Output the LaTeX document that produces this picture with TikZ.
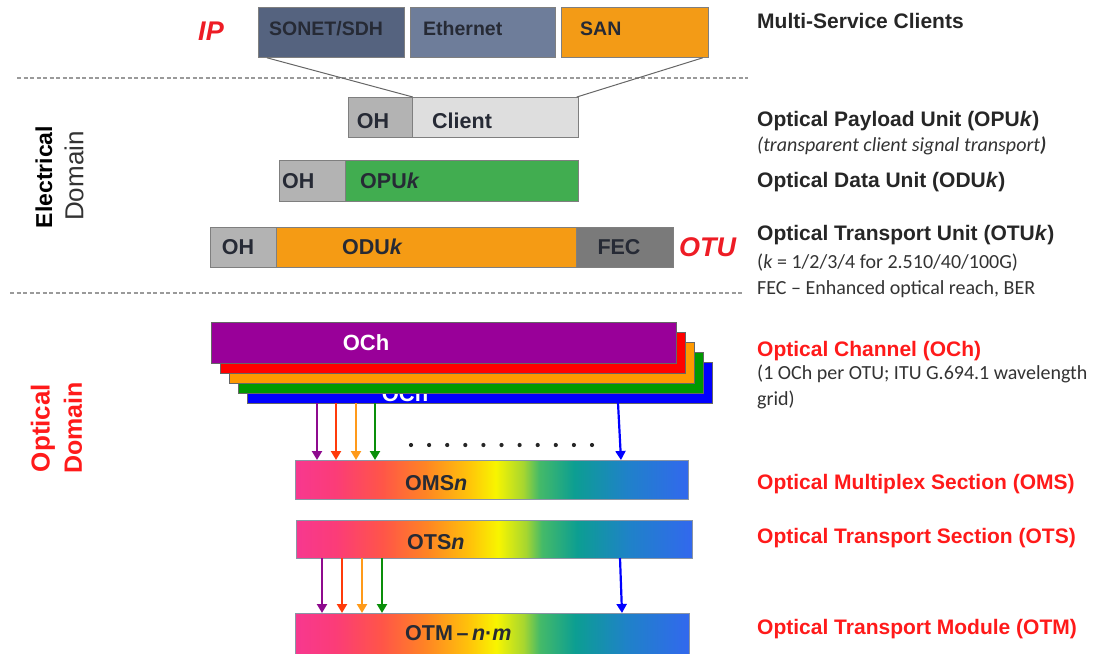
\documentclass[tikz,border=0pt]{standalone}
\usepackage{fontspec}
\setmainfont{Liberation Sans}
\newfontfamily\calibrifont{Carlito}
\usetikzlibrary{arrows.meta,calc}

% palette
\definecolor{ink}{HTML}{262A35}
\definecolor{labelink}{HTML}{262626}
\definecolor{noteink}{HTML}{333333}
\definecolor{labelred}{HTML}{FF1A1A}
\definecolor{tagred}{HTML}{EE1C25}
\definecolor{boxline}{HTML}{7F7F7F}
\definecolor{dashgray}{HTML}{9A9A9A}
\definecolor{sonetc}{HTML}{55637F}
\definecolor{etherc}{HTML}{6E7D9A}
\definecolor{sanc}{HTML}{F39B16}
\definecolor{ohc}{HTML}{B3B3B3}
\definecolor{clientc}{HTML}{DEDEDE}
\definecolor{opuc}{HTML}{41AD50}
\definecolor{oduc}{HTML}{F59B14}
\definecolor{fecc}{HTML}{7A7A7A}
\definecolor{ochline}{HTML}{666666}
\definecolor{ochpurple}{HTML}{990099}
\definecolor{ochred}{HTML}{FF0000}
\definecolor{ochorange}{HTML}{FF9900}
\definecolor{ochgreen}{HTML}{009900}
\definecolor{ochblue}{HTML}{0000FF}
\definecolor{arpurple}{HTML}{8E0A8E}
\definecolor{arred}{HTML}{FF3B0A}
\definecolor{arorange}{HTML}{FF9A1A}
\definecolor{argreen}{HTML}{0A8F0A}
\definecolor{arblue}{HTML}{0000FF}
\definecolor{barline}{HTML}{8A95A5}
\definecolor{sp0}{HTML}{F7388F}
\definecolor{sp1}{HTML}{FB3C78}
\definecolor{sp2}{HTML}{FF5548}
\definecolor{sp3}{HTML}{FF8424}
\definecolor{sp4}{HTML}{FFC30A}
\definecolor{sp5}{HTML}{F8F500}
\definecolor{sp6}{HTML}{A6D630}
\definecolor{sp7}{HTML}{45BA68}
\definecolor{sp8}{HTML}{0C9E92}
\definecolor{sp9}{HTML}{1F82C8}
\definecolor{sp10}{HTML}{3268EE}

% wavelength spectrum across the multiplexed bars (path spans 25bp..75bp)
\pgfdeclarehorizontalshading{spectrum}{100bp}{%
  color(0bp)=(sp0); color(25bp)=(sp0); color(30bp)=(sp1); color(36bp)=(sp2);
  color(41.5bp)=(sp3); color(47bp)=(sp4); color(50.5bp)=(sp5); color(54bp)=(sp6);
  color(56bp)=(sp7); color(60.5bp)=(sp8); color(67bp)=(sp9); color(75bp)=(sp10);
  color(100bp)=(sp10)}

\tikzset{
  box/.style={draw=boxline, line width=0.8pt, inner sep=0pt, anchor=north west},
  ochlayer/.style={draw=ochline, line width=0.6pt, inner sep=0pt, anchor=north west,
    minimum width=465pt, minimum height=41pt},
  bar/.style={draw=barline, line width=0.7pt, inner sep=0pt, anchor=north west,
    shade, shading=spectrum},
  txt/.style={inner sep=0pt, anchor=base west},
  boxtxt/.style={txt, text=ink, font=\fontsize{21.5}{26}\selectfont\bfseries},
  clienttxt/.style={txt, text=ink, font=\fontsize{19.5}{24}\selectfont\bfseries},
  ochtxt/.style={inner sep=0pt, text=white, font=\fontsize{22}{26}\selectfont\bfseries},
  lbl/.style={txt, text=labelink, font=\fontsize{21}{25}\selectfont\bfseries},
  redlbl/.style={lbl, text=labelred},
  note/.style={txt, text=noteink, font=\fontsize{20}{24}\selectfont\calibrifont},
  tag/.style={inner sep=0pt, text=tagred, font=\fontsize{27}{32}\selectfont\bfseries\itshape},
  domaintxt/.style={inner sep=0pt, rotate=90},
  dashline/.style={draw=dashgray, line width=1.2pt, dash pattern=on 4pt off 2.5pt},
  fanline/.style={draw=black!60, line width=1pt},
  drop/.style={line width=2.2pt, -{Triangle[width=10pt,length=9pt]}},
}

\begin{document}
\begin{tikzpicture}[x=1pt,y=-1pt]
\useasboundingbox (0,0) rectangle (1115,653);
\clip (0,0) rectangle (1115,653);

% ---------- client signals ----------
\node[tag, anchor=center] (ip) at (211,31) {IP};
\node[box, fill=sonetc, minimum width=146pt, minimum height=50pt] (sonet) at (258,7) {};
\node[box, fill=etherc, minimum width=145pt, minimum height=50pt] (ether) at (410,7) {};
\node[box, fill=sanc,   minimum width=147pt, minimum height=50pt] (san)   at (561,7) {};
\node[clienttxt] (sonettxt) at (269,35) {SONET/SDH};
\node[clienttxt] (ethertxt) at (423,35) {Ethernet};
\node[clienttxt] (santxt)   at (580,35) {SAN};
\node[lbl] (msc) at (757,28.5) {Multi-Service Clients};

% domain separators
\coordinate (sepAl) at (17,78);  \coordinate (sepAr) at (748,78);
\coordinate (sepBl) at (10,293); \coordinate (sepBr) at (742,293);
\draw[dashline] (sepAl) -- (sepAr);
\draw[dashline] (sepBl) -- (sepBr);

% ---------- OPU ----------
\node[box, fill=ohc,     minimum width=64pt,  minimum height=40pt] (oh1)    at (348,97) {};
\node[box, fill=clientc, minimum width=166pt, minimum height=40pt] (client) at (412,97) {};
\node[boxtxt, anchor=base] (oh1txt) at (373,128.5) {OH};
\node[boxtxt] (clienttxt) at (432,128.5) {Client};
\draw[fanline] ($(sonet.south west)+(9,0)$) -- (oh1.north east);
\draw[fanline] ($(san.south east)+(-6,0)$) -- ($(client.north east)+(-2,0)$);

\node[lbl] (opulbl) at (757,126.5) {Optical Payload Unit (OPU\textit{k})};
\node[note, font=\fontsize{20}{24}\selectfont\calibrifont\itshape] (opunote) at (757,151)
  {(transparent client signal transport\textbf{)}};

% ---------- ODU ----------
\node[box, fill=ohc,  minimum width=66pt,  minimum height=41pt] (oh2) at (279,160) {};
\node[box, fill=opuc, minimum width=233pt, minimum height=41pt] (opu) at (345,160) {};
\node[boxtxt] (oh2txt) at (282,188.5) {OH};
\node[boxtxt] (oputxt) at (360,188.5) {OPU\textit{k}};
\node[lbl] (odulbl) at (757,187.5) {Optical Data Unit (ODU\textit{k})};

% ---------- OTU ----------
\node[box, fill=ohc,  minimum width=66pt,  minimum height=40pt] (oh3) at (210,227) {};
\node[box, fill=oduc, minimum width=300pt, minimum height=40pt] (odu) at (276,227) {};
\node[box, fill=fecc, minimum width=97pt,  minimum height=40pt] (fec) at (576,227) {};
\node[boxtxt, anchor=base] (oh3txt) at (238,254.5) {OH};
\node[boxtxt] (odutxt) at (342,254.5) {ODU\textit{k}};
\node[boxtxt, anchor=base] (fectxt) at (619,254.5) {FEC};
\node[tag, anchor=base west] (otu) at (679,256.5) {OTU};
\node[lbl] (otulbl) at (757,240.5) {Optical Transport Unit (OTU\textit{k})};
\node[note] (otunote) at (757,268.5) {(\textit{k} = 1/2/3/4 for 2.510/40/100G)};
\node[note] (fecnote) at (757,294.5) {FEC – Enhanced optical reach, BER};

% ---------- domain labels ----------
\node[domaintxt, text=black, font=\fontsize{23}{27}\selectfont\bfseries] (elec) at (44,177) {Electrical};
\node[domaintxt, text=black!80, font=\fontsize{26}{30}\selectfont] (elecdom) at (74,176) {Domain};
\node[domaintxt, text=labelred, font=\fontsize{26}{30}\selectfont\bfseries] (opt) at (43,428) {Optical};
\node[domaintxt, text=labelred, font=\fontsize{25}{30}\selectfont\bfseries] (optdom) at (73,428) {Domain};

% ---------- optical channels (stacked wavelengths) ----------
\node[ochlayer, fill=ochblue] (ochE) at (247,362) {};
\node[ochtxt] (ochEtxt) at (405,394) {OCh};
\node[ochlayer, fill=ochgreen]  (ochD) at (238,352) {};
\node[ochlayer, fill=ochorange] (ochC) at (229,342) {};
\node[ochlayer, fill=ochred]    (ochB) at (220,332) {};
\node[ochlayer, fill=ochpurple] (ochA) at (211,322) {};
\node[ochtxt] (ochAtxt) at (366,343) {OCh};

\node[redlbl] (ochlbl) at (757,356.5) {Optical Channel (OCh)};
\node[note] (ochnoteA) at (757,379.5) {(1 OCh per OTU; ITU G.694.1 wavelength};
\node[note] (ochnoteB) at (757,405) {grid)};

% ---------- OMS / OTS / OTM ----------
\node[bar, minimum width=393pt, minimum height=39pt] (oms) at (295,460) {};
\node[boxtxt] (omstxt) at (405,490) {OMS\textit{n}};
\node[bar, minimum width=396pt, minimum height=38pt] (ots) at (296,520) {};
\node[boxtxt] (otstxt) at (407,549) {OTS\textit{n}};
\node[bar, minimum width=394pt, minimum height=52pt] (otm) at (295,613) {};
\node[boxtxt] (otmtxt) at (405,640) {OTM\,–\,\textit{n}·\textit{m}};

\node[redlbl] (omslbl) at (757,489.5) {Optical Multiplex Section (OMS)};
\node[redlbl] (otslbl) at (757,543.5) {Optical Transport Section (OTS)};
\node[redlbl] (otmlbl) at (757,634.5) {Optical Transport Module (OTM)};

% wavelengths dropped into the multiplex section
\coordinate (mA) at (317,403); \coordinate (mB) at (336,403);
\coordinate (mC) at (356,403); \coordinate (mD) at (375,403);
\coordinate (mE) at (618,403); \coordinate (mEend) at (621,460);
\draw[drop, arpurple] (mA) -- (mA |- oms.north);
\draw[drop, arred]    (mB) -- (mB |- oms.north);
\draw[drop, arorange] (mC) -- (mC |- oms.north);
\draw[drop, argreen]  (mD) -- (mD |- oms.north);
\draw[drop, arblue]   (mE) -- (mEend);
\foreach \i in {0,...,10} \fill[black!85] (411+18.1*\i,445) circle (2.1pt);

% wavelengths carried from the transport section into the module
\coordinate (tA) at (322,558); \coordinate (tB) at (342,558);
\coordinate (tC) at (362,558); \coordinate (tD) at (382,558);
\coordinate (tE) at (620,558); \coordinate (tEend) at (622,613);
\draw[drop, arpurple] (tA) -- (tA |- otm.north);
\draw[drop, arred]    (tB) -- (tB |- otm.north);
\draw[drop, arorange] (tC) -- (tC |- otm.north);
\draw[drop, argreen]  (tD) -- (tD |- otm.north);
\draw[drop, arblue]   (tE) -- (tEend);
\end{tikzpicture}
\end{document}
